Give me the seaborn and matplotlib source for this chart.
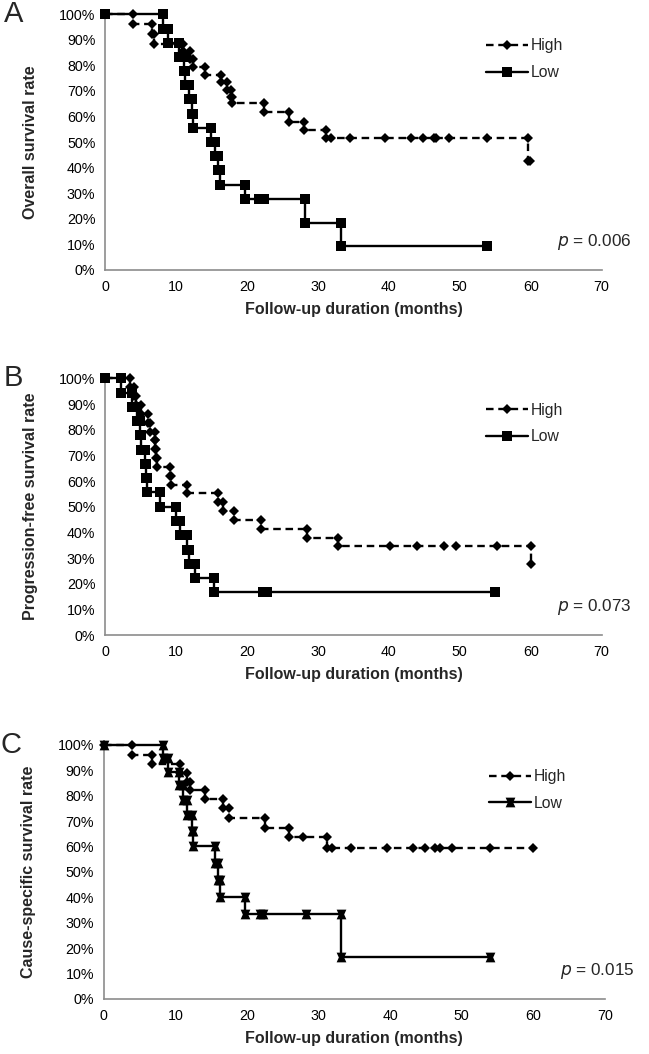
import numpy as np
import pandas as pd
import matplotlib
matplotlib.use("Agg")
import matplotlib.pyplot as plt
from matplotlib.path import Path
from matplotlib.ticker import PercentFormatter
import seaborn as sns

# Kaplan-Meier points: time (months) and survival (%) at each marker
# Panel A - overall survival
a_high_t = [0, 3.9, 6.6, 6.9, 11.0, 12.0, 12.4, 14.1, 16.4, 17.2, 17.7, 17.9, 22.4, 25.9, 28.0, 31.1,
            31.8, 34.5, 39.4, 43.1, 44.8, 46.3, 46.7, 48.5, 53.9, 59.6, 59.9]
a_high_s = [100, 96.2, 92.3, 88.5, 85.5, 82.5, 79.5, 76.2, 73.6, 70.3, 67.7, 65.1, 61.8, 57.9, 54.7, 51.4,
            51.4, 51.4, 51.4, 51.4, 51.4, 51.4, 51.4, 51.4, 51.4, 42.7, 42.7]
a_low_t = [0, 8.2, 8.9, 10.4, 11.1, 11.3, 11.8, 12.2, 12.4, 14.9, 15.5, 15.9, 16.2, 19.7, 21.7, 22.4,
           28.2, 33.2, 53.9]
a_low_s = [100, 94.4, 88.9, 83.3, 77.8, 72.2, 66.7, 61.1, 55.6, 50.0, 44.4, 38.9, 33.3, 27.8, 27.8, 27.8,
           18.5, 9.3, 9.3]

# Panel B - progression-free survival
b_high_t = [0, 3.5, 4.0, 4.3, 5.0, 6.1, 6.3, 7.0, 7.1, 7.2, 7.3, 9.2, 9.3, 11.6, 15.9, 16.6, 18.1,
            22.0, 28.4, 32.9, 40.2, 43.9, 47.8, 49.4, 55.2, 60.1]
b_high_s = [100, 96.6, 93.1, 89.7, 86.2, 82.8, 79.3, 75.9, 72.4, 69.0, 65.5, 62.1, 58.6, 55.2, 51.7, 48.3, 44.8,
            41.4, 37.9, 34.5, 34.5, 34.5, 34.5, 34.5, 34.5, 27.6]
b_low_t = [0, 2.3, 3.8, 4.5, 4.9, 5.1, 5.6, 5.8, 5.9, 7.8, 10.0, 10.5, 11.5, 11.8, 12.6, 15.3,
           22.2, 22.8, 54.9]
b_low_s = [100, 94.4, 88.9, 83.3, 77.8, 72.2, 66.7, 61.1, 55.6, 50.0, 44.4, 38.9, 33.3, 27.8, 22.2, 16.7,
           16.7, 16.7, 16.7]

# Panel C - cause-specific survival
c_high_t = [0, 3.9, 6.7, 10.6, 11.6, 12.0, 14.2, 16.6, 17.5, 22.5, 25.9, 27.8, 31.2, 31.9, 34.6,
            39.6, 43.2, 44.9, 46.2, 46.9, 48.6, 54.0, 60.0]
c_high_s = [100, 96.2, 92.6, 88.9, 85.6, 82.2, 78.6, 75.1, 71.4, 67.5, 63.8, 63.8, 59.6, 59.6, 59.6,
            59.6, 59.6, 59.6, 59.6, 59.6, 59.6, 59.6, 59.6]
c_low_t = [0, 8.3, 8.9, 10.5, 11.1, 11.6, 12.3, 12.5, 15.6, 16.0, 16.2, 19.7, 21.8, 22.3, 28.2,
           33.2, 54.0]
c_low_s = [100, 94.7, 89.4, 84.1, 78.3, 72.4, 66.3, 60.3, 53.6, 46.9, 40.2, 33.5, 33.5, 33.5, 33.5,
           16.7, 16.7]

panel_letters = ["A", "B", "C"]
y_labels = ["Overall survival rate", "Progression-free survival rate", "Cause-specific survival rate"]
p_values = ["0.006", "0.073", "0.015"]
x_label = "Follow-up duration (months)"


def km_points(t, s):
    # add the top corner of every drop so the curve is drawn as steps
    xs, ys = [t[0]], [s[0]]
    for ti, si in zip(t[1:], s[1:]):
        if si < ys[-1]:
            xs.append(ti)
            ys.append(ys[-1])
        xs.append(ti)
        ys.append(si)
    return pd.DataFrame({"time": xs, "surv": ys})


sns.set_theme(style="white")
plt.rcParams["font.family"] = ["Liberation Sans", "DejaVu Sans"]

hourglass = Path([(-1, 1), (1, 1), (0.55, 0), (1, -1), (-1, -1), (-0.55, 0), (-1, 1)],
                 [Path.MOVETO] + [Path.LINETO] * 5 + [Path.CLOSEPOLY])

fig = plt.figure(figsize=(6.49, 10.54), dpi=100)
rects = [[0.162, 0.744, 0.765, 0.2425],
         [0.162, 0.3975, 0.765, 0.2435],
         [0.160, 0.0522, 0.772, 0.2410]]
curves = [(a_high_t, a_high_s, a_low_t, a_low_s),
          (b_high_t, b_high_s, b_low_t, b_low_s),
          (c_high_t, c_high_s, c_low_t, c_low_s)]
grey = "#8c8c8c"

for i, (ht, hs, lt, ls) in enumerate(curves):
    ax = fig.add_axes(rects[i])
    high = km_points(ht, hs)
    low = km_points(lt, ls)
    low_marker = hourglass if i == 2 else "s"
    low_ms = 7 if i == 2 else 7.6
    sns.lineplot(data=low, x="time", y="surv", sort=False, estimator=None, ax=ax,
                 color="black", lw=1.7, marker=low_marker, markersize=low_ms,
                 markeredgewidth=0, label="Low", clip_on=False, zorder=3)
    sns.lineplot(data=high, x="time", y="surv", sort=False, estimator=None, ax=ax,
                 color="black", lw=1.7, linestyle=(0, (3.2, 2)), marker="D", markersize=5.3,
                 markeredgewidth=0, label="High", clip_on=False, zorder=4)

    ax.set_xlim(0, 70)
    ax.set_ylim(0, 100)
    ax.set_xticks(np.arange(0, 71, 10))
    ax.set_yticks(np.arange(0, 101, 10))
    ax.yaxis.set_major_formatter(PercentFormatter(decimals=0))
    ax.tick_params(axis="both", which="major", direction="out", length=4, width=1,
                   color=grey, labelsize=10.3, labelcolor="black", pad=3)
    sns.despine(ax=ax)
    for side in ["left", "bottom"]:
        ax.spines[side].set_color(grey)
        ax.spines[side].set_linewidth(1.2)

    ax.set_xlabel(x_label, fontsize=11.5, fontweight="bold")
    ax.set_ylabel(y_labels[i], fontsize=11.5, fontweight="bold")
    ax.xaxis.set_label_coords(0.5, -0.125)
    ax.yaxis.set_label_coords(-0.135, 0.5)

    handles, labels = ax.get_legend_handles_labels()
    order = [labels.index("High"), labels.index("Low")]
    ax.legend([handles[k] for k in order], [labels[k] for k in order],
              loc="upper right", bbox_to_anchor=(0.935, 0.93), frameon=False,
              fontsize=11.3, handlelength=2.7, handletextpad=0.15, labelspacing=0.75,
              numpoints=1, borderaxespad=0)

    ax.text(1.06, 0.11, f"$\\it{{p}}$ = {p_values[i]}", transform=ax.transAxes,
            ha="right", va="center", fontsize=12.3)
    ax.text(-0.185, 1.0, panel_letters[i], transform=ax.transAxes,
            ha="center", va="center", fontsize=21)

plt.savefig("out.png", dpi=100)
